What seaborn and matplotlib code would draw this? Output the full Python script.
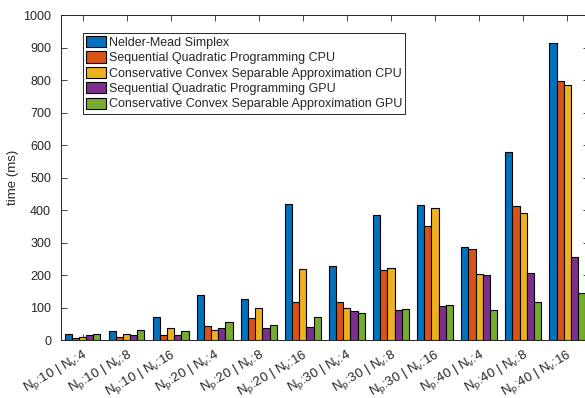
import matplotlib
matplotlib.use("Agg")
import matplotlib.pyplot as plt
import seaborn as sns
import pandas as pd

categories = [r"$N_p$:10 | $N_v$:4", r"$N_p$:10 | $N_v$:8", r"$N_p$:10 | $N_v$:16",
              r"$N_p$:20 | $N_v$:4", r"$N_p$:20 | $N_v$:8", r"$N_p$:20 | $N_v$:16",
              r"$N_p$:30 | $N_v$:4", r"$N_p$:30 | $N_v$:8", r"$N_p$:30 | $N_v$:16",
              r"$N_p$:40 | $N_v$:4", r"$N_p$:40 | $N_v$:8", r"$N_p$:40 | $N_v$:16"]
series_names = ["Nelder-Mead Simplex",
                "Sequential Quadratic Programming CPU",
                "Conservative Convex Separable Approximation CPU",
                "Sequential Quadratic Programming GPU",
                "Conservative Convex Separable Approximation GPU"]
nelder_mead = [19, 28, 71, 137, 125, 419, 229, 386, 416, 285, 578, 914]
sqp_cpu = [5, 9, 15, 43, 69, 116, 116, 215, 351, 279, 413, 797]
ccsa_cpu = [9, 18, 36, 30, 97, 220, 97, 223, 406, 204, 392, 786]
sqp_gpu = [15, 15, 15, 37, 38, 41, 88, 91, 104, 201, 205, 255]
ccsa_gpu = [17, 32, 28, 54, 45, 71, 82, 95, 109, 91, 118, 144]
colors = ["#0072BD", "#D95319", "#EDB120", "#7E2F8E", "#77AC30"]

rows = []
for name, vals in zip(series_names, [nelder_mead, sqp_cpu, ccsa_cpu, sqp_gpu, ccsa_gpu]):
    for c, v in zip(categories, vals):
        rows.append({"cat": c, "series": name, "time": v})
df = pd.DataFrame(rows)

sns.set_style("white")
plt.rcParams['font.family'] = ['Liberation Sans', 'DejaVu Sans']
plt.rcParams['mathtext.fontset'] = 'custom'
plt.rcParams['mathtext.rm'] = 'Liberation Sans'
plt.rcParams['mathtext.it'] = 'Liberation Sans'

fig = plt.figure(figsize=(5.85, 3.98), dpi=100)
ax = fig.add_axes([0.104, 0.1457, 0.903, 0.8166])
sns.barplot(data=df, x="cat", y="time", hue="series", order=categories,
            hue_order=series_names, palette=colors, width=0.8,
            edgecolor="black", linewidth=0.8, ax=ax, saturation=1)
ax.set_xlim(-0.5, 11.5)
ax.set_ylim(0, 1000)
ax.set_yticks(range(0, 1001, 100))
ax.set_xlabel("")
ax.set_ylabel("time (ms)", fontsize=9.5, labelpad=3)
ax.set_xticks(range(len(categories)))
ax.set_xticklabels(categories, rotation=30, ha="right", rotation_mode="anchor", fontsize=9.5)
ax.tick_params(axis="both", direction="in", length=4, width=0.6, colors="#262626",
               labelsize=9, top=True, right=True, bottom=True, left=True)
ax.tick_params(axis="y", pad=7)
ax.tick_params(axis="x", pad=5, labelsize=9.5)
for lab in ax.get_xticklabels() + ax.get_yticklabels():
    lab.set_color("#262626")
for s in ax.spines.values():
    s.set_visible(True)
    s.set_color("#262626")
    s.set_linewidth(0.7)
leg = ax.legend(loc="upper left", bbox_to_anchor=(0.042, 0.945), fontsize=9,
                frameon=True, fancybox=False, edgecolor="#262626", framealpha=1,
                handlelength=1.6, handleheight=1.0, handletextpad=0.2,
                labelspacing=0.2, borderpad=0.25, borderaxespad=0)
leg.get_frame().set_linewidth(0.7)
fig.savefig("out.png", dpi=100)
